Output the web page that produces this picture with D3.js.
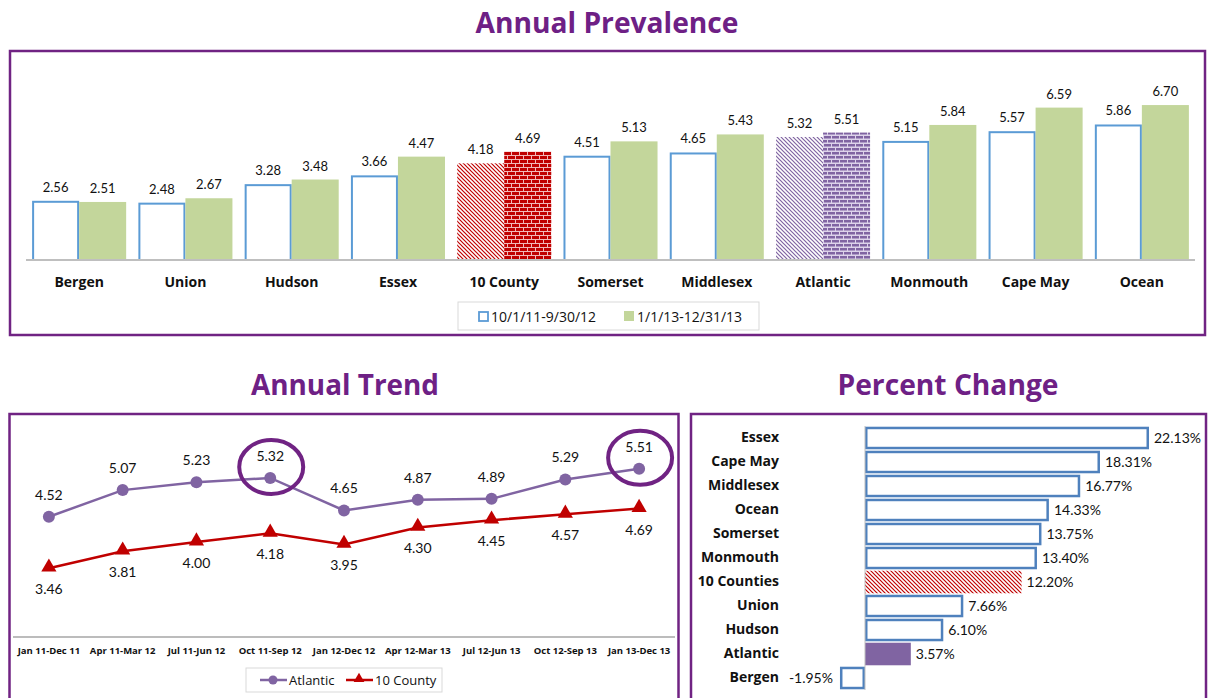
<!DOCTYPE html>
<html>
<head>
<meta charset="utf-8">
<script src="https://d3js.org/d3.v7.min.js"></script>
<style>
  body { margin: 0; background: #fff; }
  text { font-family: "Open Sans", sans-serif; fill: #111; }
  .title { font-weight: 700; fill: #6e2085; font-size: 28px; }
  .cat { font-weight: 700; font-size: 14px; }
  .val { font-family: Lato, "Open Sans", sans-serif; font-size: 14px; }
  .per { font-weight: 700; font-size: 9.5px; }
</style>
</head>
<body>
<script>
// Annual prevalence per county
var counties = ["Bergen", "Union", "Hudson", "Essex", "10 County", "Somerset", "Middlesex", "Atlantic", "Monmouth", "Cape May", "Ocean"];
var prev2012 = [2.56, 2.48, 3.28, 3.66, 4.18, 4.51, 4.65, 5.32, 5.15, 5.57, 5.86];
var prev2013 = [2.51, 2.67, 3.48, 4.47, 4.69, 5.13, 5.43, 5.51, 5.84, 6.59, 6.70];
var seriesNames = ["10/1/11-9/30/12", "1/1/13-12/31/13"];

// Annual trend
var periods = ["Jan 11-Dec 11", "Apr 11-Mar 12", "Jul 11-Jun 12", "Oct 11-Sep 12", "Jan 12-Dec 12", "Apr 12-Mar 13", "Jul 12-Jun 13", "Oct 12-Sep 13", "Jan 13-Dec 13"];
var atlantic = [4.52, 5.07, 5.23, 5.32, 4.65, 4.87, 4.89, 5.29, 5.51];
var tenCounty = [3.46, 3.81, 4.00, 4.18, 3.95, 4.30, 4.45, 4.57, 4.69];
var trendNames = ["Atlantic", "10 County"];
var circled = ["Oct 11-Sep 12", "Jan 13-Dec 13"];

// Percent change
var changeNames = ["Essex", "Cape May", "Middlesex", "Ocean", "Somerset", "Monmouth", "10 Counties", "Union", "Hudson", "Atlantic", "Bergen"];
var changeValues = [22.13, 18.31, 16.77, 14.33, 13.75, 13.40, 12.20, 7.66, 6.10, 3.57, -1.95];

var purple = "#702383", blue = "#5b9bd5", green = "#c3d69b", red = "#c00000", lav = "#8064a2";

var svg = d3.select("body").append("svg")
    .attr("width", 1209)
    .attr("height", 698);

// patterns for the highlighted bars
var defs = svg.append("defs");
function hatch(id, color) {
  var p = defs.append("pattern").attr("id", id)
      .attr("patternUnits", "userSpaceOnUse").attr("width", 4).attr("height", 4);
  p.append("rect").attr("width", 4).attr("height", 4).attr("fill", "#fff");
  p.append("path").attr("d", "M-1,-1L5,5M-1,3L1,5M3,-1L5,1")
      .attr("stroke", color).attr("stroke-width", 1.2);
}
function brick(id, color, bg, h) {
  var p = defs.append("pattern").attr("id", id)
      .attr("patternUnits", "userSpaceOnUse").attr("width", 8).attr("height", 8);
  p.append("rect").attr("width", 8).attr("height", 8).attr("fill", bg);
  [[0, 0], [-4, 4], [4, 4]].forEach(function(b) {
    p.append("rect").attr("x", b[0]).attr("y", b[1]).attr("width", 7).attr("height", h).attr("fill", color);
  });
}
hatch("hatchRed", red);
hatch("hatchPurple", lav);
brick("brickRed", red, "#f1b9b9", 3);
brick("brickPurple", lav, "#ddd3ea", 2.5);

// ---------- Annual Prevalence ----------
svg.append("text").attr("class", "title")
    .attr("x", 607).attr("y", 33).attr("text-anchor", "middle")
    .attr("textLength", 263).attr("lengthAdjust", "spacingAndGlyphs")
    .text("Annual Prevalence");
svg.append("rect").attr("x", 10).attr("y", 51).attr("width", 1195).attr("height", 284)
    .attr("fill", "none").attr("stroke", purple).attr("stroke-width", 2.5);

var x0 = d3.scaleBand().domain(counties).range([26, 1195])
    .paddingInner(0.115).paddingOuter(0.0575);
var x1 = d3.scaleBand().domain([0, 1]).range([0, x0.bandwidth()]);
var y0 = d3.scaleLinear().domain([0, 8]).range([260, 75]);

var prevData = [];
counties.forEach(function(c, i) {
  prevData.push({county: c, s: 0, v: prev2012[i]});
  prevData.push({county: c, s: 1, v: prev2013[i]});
});

function prevFill(d) {
  if (d.county === "10 County") return d.s ? "url(#brickRed)" : "url(#hatchRed)";
  if (d.county === "Atlantic") return d.s ? "url(#brickPurple)" : "url(#hatchPurple)";
  return d.s ? green : "#fff";
}
function plain(d) { return d.county !== "10 County" && d.county !== "Atlantic"; }

svg.selectAll(".pbar").data(prevData).enter().append("rect")
    .attr("class", "pbar")
    .attr("x", function(d) { return x0(d.county) + x1(d.s) + (d.s === 0 && plain(d) ? 1 : 0); })
    .attr("y", function(d) { return y0(d.v) + (d.s === 0 && plain(d) ? 1 : 0); })
    .attr("width", function(d) { return x1.bandwidth() - (d.s === 0 && plain(d) ? 2 : 0); })
    .attr("height", function(d) { return y0(0) - y0(d.v) - (d.s === 0 && plain(d) ? 1 : 0); })
    .attr("fill", prevFill)
    .attr("stroke", function(d) { return d.s === 0 && plain(d) ? blue : "none"; })
    .attr("stroke-width", 2);

svg.selectAll(".pval").data(prevData).enter().append("text")
    .attr("class", "val")
    .attr("x", function(d) { return x0(d.county) + x1(d.s) + x1.bandwidth() / 2; })
    .attr("y", function(d) { return y0(d.v) - 9; })
    .attr("text-anchor", "middle")
    .style("font-size", "13px")
    .text(function(d) { return d.v.toFixed(2); });

svg.append("line").attr("x1", 26).attr("x2", 1195).attr("y1", 260).attr("y2", 260)
    .attr("stroke", "#bfbfbf").attr("stroke-width", 2);

svg.append("g").attr("transform", "translate(0,282)")
    .call(d3.axisBottom(x0).tickSize(0))
    .call(function(g) { g.select(".domain").remove(); })
    .selectAll("text").attr("class", "cat").attr("dy", "0.35em").attr("y", 0).style("font-size", "14px");

// legend
svg.append("rect").attr("x", 458).attr("y", 302).attr("width", 301).attr("height", 28)
    .attr("fill", "#fff").attr("stroke", "#d9d9d9");
svg.append("rect").attr("x", 479).attr("y", 312).attr("width", 9).attr("height", 9)
    .attr("fill", "#fff").attr("stroke", blue).attr("stroke-width", 1.8);
svg.append("text").attr("class", "val").attr("x", 491).attr("y", 322).style("font-family", "Open Sans").text(seriesNames[0]);
svg.append("rect").attr("x", 624).attr("y", 311).attr("width", 10).attr("height", 10).attr("fill", green);
svg.append("text").attr("class", "val").attr("x", 637).attr("y", 322).style("font-family", "Open Sans").text(seriesNames[1]);

// ---------- Annual Trend ----------
svg.append("text").attr("class", "title")
    .attr("x", 345).attr("y", 395).attr("text-anchor", "middle")
    .attr("textLength", 188).attr("lengthAdjust", "spacingAndGlyphs")
    .text("Annual Trend");
svg.append("rect").attr("x", 9.5).attr("y", 414).attr("width", 669).attr("height", 300)
    .attr("fill", "none").attr("stroke", purple).attr("stroke-width", 2.5);

var xt = d3.scaleBand().domain(periods).range([12, 676]);
var yt = d3.scaleLinear().domain([2, 6]).range([639, 445]);
function cx(d, i) { return xt(periods[i]) + xt.bandwidth() / 2; }

svg.append("line").attr("x1", 13).attr("x2", 675).attr("y1", 637).attr("y2", 637)
    .attr("stroke", "#a6a6a6").attr("stroke-width", 1.5);

svg.append("g").attr("transform", "translate(0,651)")
    .call(d3.axisBottom(xt).tickSize(0))
    .call(function(g) { g.select(".domain").remove(); })
    .selectAll("text").attr("class", "per").attr("y", 0).attr("dy", "0.35em");

var line = d3.line().x(function(d, i) { return cx(d, i); }).y(function(d) { return yt(d); });

svg.append("path").datum(tenCounty).attr("d", line)
    .attr("fill", "none").attr("stroke", red).attr("stroke-width", 2.5);
svg.append("path").datum(atlantic).attr("d", line)
    .attr("fill", "none").attr("stroke", lav).attr("stroke-width", 2.5);

var tri = d3.symbol().type(d3.symbolTriangle).size(100);
svg.selectAll(".tri").data(tenCounty).enter().append("path")
    .attr("d", tri)
    .attr("transform", function(d, i) { return "translate(" + cx(d, i) + "," + (yt(d) - 1) + ")"; })
    .attr("fill", red);
svg.selectAll(".dot").data(atlantic).enter().append("circle")
    .attr("cx", cx).attr("cy", function(d) { return yt(d); }).attr("r", 6)
    .attr("fill", lav);

svg.selectAll(".alab").data(atlantic).enter().append("text")
    .attr("class", "val").attr("text-anchor", "middle")
    .attr("x", cx).attr("y", function(d) { return yt(d) - 17; })
    .text(function(d) { return d.toFixed(2); });
svg.selectAll(".tlab").data(tenCounty).enter().append("text")
    .attr("class", "val").attr("text-anchor", "middle")
    .attr("x", cx).attr("y", function(d) { return yt(d) + 26; })
    .text(function(d) { return d.toFixed(2); });

// circled points
svg.selectAll(".ring").data(circled).enter().append("ellipse")
    .attr("cx", function(p) { return xt(p) + xt.bandwidth() / 2 + 1; })
    .attr("cy", function(p) { return yt(atlantic[periods.indexOf(p)]) - 11; })
    .attr("rx", 32).attr("ry", 27)
    .attr("fill", "none").attr("stroke", purple).attr("stroke-width", 4);

// legend
svg.append("rect").attr("x", 246).attr("y", 668).attr("width", 196).attr("height", 24)
    .attr("fill", "#fff").attr("stroke", "#d9d9d9");
svg.append("line").attr("x1", 260).attr("x2", 287).attr("y1", 680).attr("y2", 680)
    .attr("stroke", lav).attr("stroke-width", 2.5);
svg.append("circle").attr("cx", 273).attr("cy", 680).attr("r", 4.5).attr("fill", lav);
svg.append("text").attr("class", "val").attr("x", 289).attr("y", 685).style("font-size", "13px")
    .style("font-family", "Open Sans").text(trendNames[0]);
svg.append("line").attr("x1", 346).attr("x2", 373).attr("y1", 680).attr("y2", 680)
    .attr("stroke", red).attr("stroke-width", 2.5);
svg.append("path").attr("d", d3.symbol().type(d3.symbolTriangle).size(50))
    .attr("transform", "translate(359,679)").attr("fill", red);
svg.append("text").attr("class", "val").attr("x", 375).attr("y", 685).style("font-size", "13px")
    .style("font-family", "Open Sans").text(trendNames[1]);

// ---------- Percent Change ----------
svg.append("text").attr("class", "title")
    .attr("x", 948).attr("y", 395).attr("text-anchor", "middle")
    .attr("textLength", 221).attr("lengthAdjust", "spacingAndGlyphs")
    .text("Percent Change");
svg.append("rect").attr("x", 691).attr("y", 414).attr("width", 515).attr("height", 300)
    .attr("fill", "none").attr("stroke", purple).attr("stroke-width", 2.5);

var xc = d3.scaleLinear().domain([0, 22.13]).range([865, 1149]);
var yc = d3.scaleBand().domain(changeNames).range([426, 690])
    .paddingInner(0.06).paddingOuter(0.03);

var changeData = changeNames.map(function(n, i) { return {name: n, v: changeValues[i]}; });
function isPlain(d) { return d.name !== "10 Counties" && d.name !== "Atlantic"; }

svg.selectAll(".cbar").data(changeData).enter().append("rect")
    .attr("x", function(d) { return Math.min(xc(0), xc(d.v)) + (isPlain(d) ? 1.25 : 0); })
    .attr("y", function(d) { return yc(d.name) + (isPlain(d) ? 1.25 : 0); })
    .attr("width", function(d) { return Math.abs(xc(d.v) - xc(0)) - (isPlain(d) ? 2.5 : 0); })
    .attr("height", function(d) { return yc.bandwidth() - (isPlain(d) ? 2.5 : 0); })
    .attr("fill", function(d) {
      if (d.name === "10 Counties") return "url(#hatchRed)";
      if (d.name === "Atlantic") return lav;
      return "#fff";
    })
    .attr("stroke", function(d) { return isPlain(d) ? "#4f81bd" : "none"; })
    .attr("stroke-width", 2.5);

svg.append("line").attr("x1", xc(0)).attr("x2", xc(0)).attr("y1", 426).attr("y2", 690)
    .attr("stroke", "#bfbfbf").attr("stroke-width", 1);

svg.selectAll(".cval").data(changeData).enter().append("text")
    .attr("class", "val")
    .attr("x", function(d) { return d.v < 0 ? xc(d.v) - 7 : xc(d.v) + 5; })
    .attr("y", function(d) { return yc(d.name) + yc.bandwidth() / 2; })
    .attr("dy", "0.35em")
    .attr("text-anchor", function(d) { return d.v < 0 ? "end" : "start"; })
    .text(function(d) { return d.v.toFixed(2) + "%"; });

svg.append("g").attr("transform", "translate(779,0)")
    .call(d3.axisLeft(yc).tickSize(0))
    .call(function(g) { g.select(".domain").remove(); })
    .selectAll("text").attr("class", "cat").attr("x", 0);
</script>
</body>
</html>
